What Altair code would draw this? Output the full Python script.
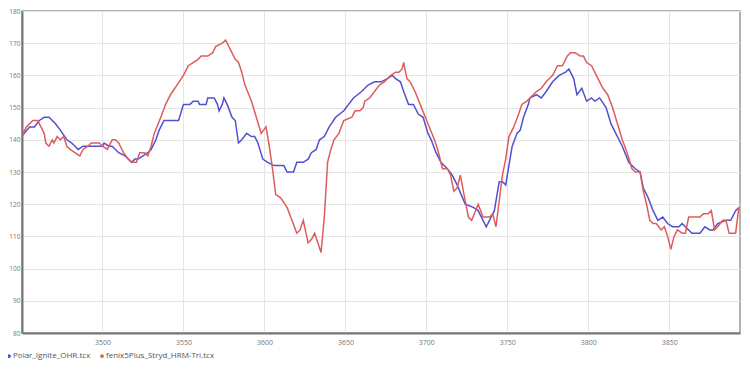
import altair as alt
import pandas as pd

series_names = ["Polar_Ignite_OHR.tcx", "fenix5Plus_Stryd_HRM-Tri.tcx"]
series_colors = ["#5050d0", "#e05c5c"]

blue_x = [3450, 3455, 3458, 3461, 3464, 3467, 3471, 3474, 3478, 3481, 3485, 3488, 3500, 3501, 3504, 3506,
          3510, 3514, 3518, 3520, 3522, 3525, 3528, 3530, 3533, 3535, 3538, 3547, 3550, 3554, 3556, 3559,
          3560, 3564, 3565, 3569, 3571, 3572, 3574, 3575, 3577, 3580, 3582, 3584, 3586, 3589, 3592, 3594,
          3596, 3599, 3602, 3606, 3612, 3614, 3618, 3620, 3624, 3627, 3629, 3632, 3634, 3637, 3640, 3644,
          3649, 3652, 3655, 3660, 3664, 3668, 3672, 3676, 3679, 3681, 3684, 3686, 3689, 3692, 3695, 3698,
          3701, 3703, 3706, 3709, 3713, 3716, 3719, 3724, 3729, 3732, 3735, 3737, 3740, 3742, 3745, 3747,
          3749, 3751, 3753, 3756, 3758, 3760, 3763, 3764, 3768, 3771, 3774, 3778, 3782, 3786, 3788, 3791,
          3793, 3796, 3799, 3802, 3804, 3807, 3811, 3814, 3817, 3821, 3825, 3829, 3832, 3834, 3837, 3840,
          3843, 3846, 3849, 3852, 3856, 3858, 3860, 3864, 3869, 3872, 3875, 3877, 3880, 3885, 3888, 3891,
          3893]
blue_y = [141, 144, 144, 146, 147, 147, 145, 143, 140, 139, 137, 138, 138, 139, 138, 138,
          136, 135, 133, 134, 134, 135, 136, 137, 140, 143, 146, 146, 151, 151, 152, 152,
          151, 151, 153, 153, 151, 149, 151, 153, 151, 147, 146, 139, 140, 142, 141, 141,
          139, 134, 133, 132, 132, 130, 130, 133, 133, 134, 136, 137, 140, 141, 144, 147,
          149, 151, 153, 155, 157, 158, 158, 159, 160, 159, 158, 155, 151, 151, 148, 147,
          142, 140, 136, 133, 131, 129, 126, 120, 119, 118, 115, 113, 116, 118, 127, 127,
          126, 132, 138, 142, 143, 147, 151, 153, 154, 153, 155, 158, 160, 161, 162, 159,
          154, 156, 152, 153, 152, 153, 150, 145, 142, 138, 133, 131, 130, 125, 122, 118,
          115, 116, 114, 113, 113, 114, 113, 111, 111, 113, 112, 112, 114, 115, 115, 118,
          119]

red_x = [3450, 3453, 3457, 3460, 3462, 3464, 3465, 3467, 3469, 3470, 3472, 3474, 3476, 3478, 3480, 3483,
         3486, 3488, 3491, 3493, 3498, 3500, 3503, 3506, 3508, 3510, 3513, 3516, 3518, 3521, 3523, 3526,
         3528, 3530, 3532, 3536, 3539, 3542, 3546, 3550, 3553, 3556, 3559, 3561, 3565, 3568, 3570, 3574,
         3576, 3579, 3582, 3584, 3586, 3588, 3592, 3595, 3598, 3601, 3603, 3605, 3607, 3610, 3614, 3617,
         3620, 3622, 3624, 3627, 3629, 3631, 3633, 3635, 3637, 3639, 3641, 3643, 3646, 3649, 3654, 3656,
         3659, 3661, 3662, 3665, 3668, 3671, 3674, 3678, 3681, 3683, 3685, 3686, 3688, 3690, 3693, 3697,
         3701, 3705, 3707, 3710, 3713, 3715, 3717, 3719, 3721, 3724, 3726, 3728, 3732, 3735, 3739, 3741,
         3743, 3745, 3747, 3749, 3751, 3754, 3757, 3759, 3762, 3764, 3768, 3771, 3774, 3778, 3781, 3784,
         3787, 3789, 3792, 3795, 3797, 3799, 3802, 3805, 3809, 3812, 3815, 3818, 3821, 3824, 3827, 3829,
         3832, 3834, 3836, 3838, 3840, 3842, 3845, 3847, 3849, 3851, 3853, 3855, 3858, 3860, 3862, 3865,
         3869, 3871, 3874, 3876, 3878, 3880, 3883, 3885, 3887, 3891, 3893]
red_y = [141, 144, 146, 146, 144, 142, 139, 138, 140, 139, 141, 140, 141, 138, 137, 136,
         135, 137, 138, 139, 139, 138, 137, 140, 140, 139, 136, 134, 133, 133, 136, 136,
         135, 138, 142, 147, 151, 154, 157, 160, 163, 164, 165, 166, 166, 167, 169, 170,
         171, 168, 165, 164, 161, 157, 152, 147, 142, 144, 138, 131, 123, 122, 119, 115,
         111, 112, 115, 108, 109, 111, 108, 105, 116, 133, 137, 140, 142, 146, 147, 149,
         149, 150, 152, 153, 155, 157, 158, 160, 161, 161, 162, 164, 159, 158, 155, 150,
         145, 140, 137, 131, 131, 129, 124, 125, 129, 121, 116, 115, 120, 116, 116, 117,
         113, 121, 129, 134, 141, 144, 148, 151, 152, 153, 155, 156, 158, 160, 163, 163,
         166, 167, 167, 166, 166, 164, 163, 160, 156, 154, 150, 145, 140, 136, 131, 130,
         130, 124, 120, 115, 114, 114, 112, 113, 110, 106, 110, 112, 111, 111, 116, 116,
         116, 117, 117, 118, 112, 113, 115, 115, 111, 111, 119]

x_ticks = [3500, 3550, 3600, 3650, 3700, 3750, 3800, 3850]
y_ticks = [80, 90, 100, 110, 120, 130, 140, 150, 160, 170, 180]

df = pd.concat([
    pd.DataFrame({"t": blue_x, "hr": blue_y, "series": series_names[0]}),
    pd.DataFrame({"t": red_x, "hr": red_y, "series": series_names[1]}),
])

font = "Open Sans"

chart = alt.Chart(df).mark_line(strokeWidth=1.5, clip=True).encode(
    x=alt.X("t:Q", title=None,
            scale=alt.Scale(domain=[3450.3, 3893.7], nice=False, zero=False),
            axis=alt.Axis(values=x_ticks, format="d", labelFontSize=7, labelColor="#777",
                          labelFont=font, labelPadding=5, ticks=False, domainColor="#777",
                          domainWidth=2, gridColor="#e4e4e4", gridWidth=1, labelFlush=False)),
    y=alt.Y("hr:Q", title=None,
            scale=alt.Scale(domain=[80, 180], nice=False, zero=False),
            axis=alt.Axis(values=y_ticks, format="d", labelFontSize=6.5, labelColor="#777",
                          labelFont=font, labelPadding=2, ticks=False, domainColor="#777",
                          domainWidth=2, gridColor="#e4e4e4", gridWidth=1, labelFlush=False)),
    color=alt.Color("series:N",
                    scale=alt.Scale(domain=series_names, range=series_colors),
                    legend=alt.Legend(title=None, orient="none", legendX=-17, legendY=341,
                                      direction="horizontal", symbolType="circle", symbolSize=3,
                                      symbolStrokeWidth=2, labelFontSize=8, labelColor="#555",
                                      labelFont=font, labelOffset=0, columnPadding=6, padding=0)),
    detail="series:N",
).properties(
    width=718, height=322,
    autosize=alt.AutoSizeParams(type="none"),
    padding={"left": 14, "top": 3, "right": 2, "bottom": 30},
).configure_view(
    stroke="#999", strokeWidth=1.5
)

chart.save("out.html", embed_options={"renderer": "svg", "actions": False})
